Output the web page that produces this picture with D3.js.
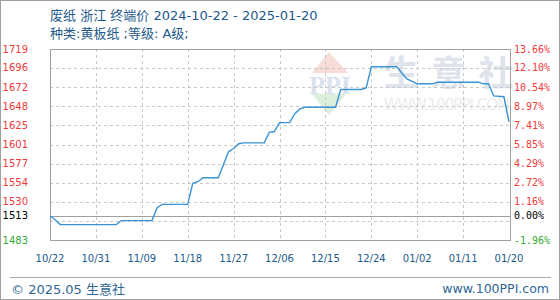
<!DOCTYPE html>
<html>
<head>
<meta charset="utf-8">
<script src="https://cdn.jsdelivr.net/npm/d3@7/dist/d3.min.js"></script>
<style>
body { margin: 0; background: white; }
svg text { font-family: "DejaVu Sans", sans-serif; }
</style>
</head>
<body>
<script>
// price series
const dates = ["2024-10-22","2024-10-23","2024-10-24","2024-11-04","2024-11-05","2024-11-11","2024-11-12","2024-11-13",
  "2024-11-18","2024-11-19","2024-11-20","2024-11-21","2024-11-24","2024-11-25","2024-11-26","2024-11-27","2024-11-28",
  "2024-11-29","2024-12-03","2024-12-04","2024-12-05","2024-12-06","2024-12-08","2024-12-09","2024-12-10","2024-12-11",
  "2024-12-17","2024-12-18","2024-12-22","2024-12-23","2024-12-24","2024-12-29","2024-12-30","2024-12-31","2025-01-01",
  "2025-01-02","2025-01-05","2025-01-06","2025-01-14","2025-01-15","2025-01-16","2025-01-17","2025-01-19","2025-01-20"];
const prices = [1513,1508,1502,1502,1507,1507,1523,1527,
  1527,1553,1555,1560,1560,1576,1592,1596,1602,
  1603,1603,1616,1617,1628,1628,1639,1645,1647,
  1647,1669,1669,1671,1697,1697,1689,1682,1679,
  1676,1676,1678,1678,1676,1676,1661,1660,1629];

const xTickLabels = ["10/22","10/31","11/09","11/18","11/27","12/06","12/15","12/24","01/02","01/11","01/20"];
const xTickDates = ["2024-10-22","2024-10-31","2024-11-09","2024-11-18","2024-11-27","2024-12-06","2024-12-15","2024-12-24","2025-01-02","2025-01-11","2025-01-20"];
const gridValues = [1483, 1507, 1530, 1554, 1577, 1601, 1625, 1648, 1672, 1696, 1719];
const leftLabels = [1483, 1513, 1530, 1554, 1577, 1601, 1625, 1648, 1672, 1696, 1719];
const rightLabels = ["-1.96%","0.00%","1.16%","2.72%","4.29%","5.85%","7.41%","8.97%","10.54%","12.10%","13.66%"];
const basePrice = 1513;

const W = 560, H = 300;
const svg = d3.select("body").append("svg").attr("width", W).attr("height", H);

const plot = {left: 50, right: 510, top: 49, bottom: 240};
const parse = d3.timeParse("%Y-%m-%d");
const cjk = "'DejaVu Sans', 'Noto Sans CJK SC', sans-serif";

const x = d3.scaleTime()
  .domain([parse("2024-10-22"), parse("2025-01-20")])
  .range([plot.left, 509]);
const y = d3.scaleLinear()
  .domain([1483, 1719])
  .range([plot.bottom, plot.top]);

// outer border + footer separator
svg.append("rect").attr("x", 0.5).attr("y", 0.5).attr("width", W - 1).attr("height", H - 1)
  .attr("fill", "white").attr("stroke", "#a0a0a0");
svg.append("line").attr("x1", 10).attr("x2", 551).attr("y1", 277.5).attr("y2", 277.5)
  .attr("stroke", "#a8a8a8");

// title
const title = svg.append("g").attr("fill", "#1e5a8c");
title.append("text").attr("x", 50).attr("y", 20).style("font-family", cjk).style("font-size", "13px")
  .text("废纸 浙江 终端价 2024-10-22 - 2025-01-20");
title.append("text").attr("x", 50).attr("y", 38).style("font-family", cjk).style("font-size", "13px")
  .text("种类:黄板纸 ;等级: A级;");

// watermark
const wm = svg.append("g");
wm.append("path").attr("d", "M312,73 L329,52 L348,73 Z").attr("fill", "#f7dcd8");
wm.append("path").attr("d", "M312,94 L346,94 L329,115 Z").attr("fill", "#dcefdd");
wm.append("text").attr("x", 330).attr("y", 94).attr("text-anchor", "middle")
  .style("font-family", "'Liberation Serif', serif").style("font-size", "26px").style("font-weight", "bold")
  .attr("fill", "#dde2f0").text("PPI");
["生", "意", "社"].forEach((c, i) => {
  wm.append("text").attr("x", 401 + i * 47.5).attr("y", 86).attr("text-anchor", "middle")
    .style("font-family", "'Noto Sans CJK SC', sans-serif").style("font-size", "35px").style("font-weight", "bold")
    .attr("fill", "#dfe3ec").text(c);
});
wm.append("text").attr("x", 447).attr("y", 110).attr("text-anchor", "middle")
  .style("font-size", "15px").attr("fill", "#ececec").attr("textLength", 126).text("WWW.100PPI.COM");

// grid
const g = svg.append("g");
g.selectAll("line.h").data(gridValues.slice(1, -1)).enter().append("line")
  .attr("x1", plot.left).attr("x2", plot.right)
  .attr("y1", d => Math.round(y(d)) + 0.5).attr("y2", d => Math.round(y(d)) + 0.5)
  .attr("stroke", "#c8c8c8").attr("stroke-dasharray", "3,3");
g.selectAll("line.v").data(xTickDates.slice(1, -1)).enter().append("line")
  .attr("x1", d => Math.round(x(parse(d))) + 0.5).attr("x2", d => Math.round(x(parse(d))) + 0.5)
  .attr("y1", plot.top).attr("y2", plot.bottom)
  .attr("stroke", "#c8c8c8").attr("stroke-dasharray", "3,3");

// frame and base line
g.append("rect").attr("x", plot.left + 0.5).attr("y", plot.top + 0.5)
  .attr("width", plot.right - plot.left).attr("height", plot.bottom - plot.top)
  .attr("fill", "none").attr("stroke", "#a0a0a0");
g.append("line").attr("x1", plot.left).attr("x2", plot.right)
  .attr("y1", Math.round(y(basePrice)) + 0.5).attr("y2", Math.round(y(basePrice)) + 0.5)
  .attr("stroke", "#a0a0a0");

// series
const line = d3.line()
  .x((d, i) => x(parse(dates[i])))
  .y(d => y(d));
svg.append("path").datum(prices)
  .attr("fill", "none").attr("stroke", "#3b93d3").attr("stroke-width", 1.4)
  .attr("d", line);

// left labels
const colorFor = v => v === basePrice ? "#000" : (v < basePrice ? "#33aa33" : "#f03a3a");
svg.append("g").selectAll("text").data(leftLabels).enter().append("text")
  .attr("x", 28).attr("y", d => y(d)).attr("dy", "0.35em").attr("text-anchor", "end")
  .style("font-size", "10px").attr("fill", colorFor).text(d => d);

// right labels
svg.append("g").selectAll("text").data(rightLabels).enter().append("text")
  .attr("x", 514).attr("y", (d, i) => y(leftLabels[i])).attr("dy", "0.35em")
  .style("font-family", "'DejaVu Sans Mono', monospace").style("font-size", "10px")
  .attr("fill", (d, i) => colorFor(leftLabels[i])).text(d => d);

// x labels
svg.append("g").selectAll("text").data(xTickDates).enter().append("text")
  .attr("x", d => x(parse(d))).attr("y", 262).attr("text-anchor", "middle")
  .style("font-size", "10px").attr("fill", "#1a5a8a").text((d, i) => xTickLabels[i]);

// footer
svg.append("text").attr("x", 11).attr("y", 294)
  .style("font-family", cjk).style("font-size", "13px")
  .attr("fill", "#2f6694").text("© 2025.05 生意社");
svg.append("text").attr("x", 549).attr("y", 293).attr("text-anchor", "end")
  .style("font-size", "12.5px").attr("fill", "#2f6694").text("www.100PPI.com");
</script>
</body>
</html>
